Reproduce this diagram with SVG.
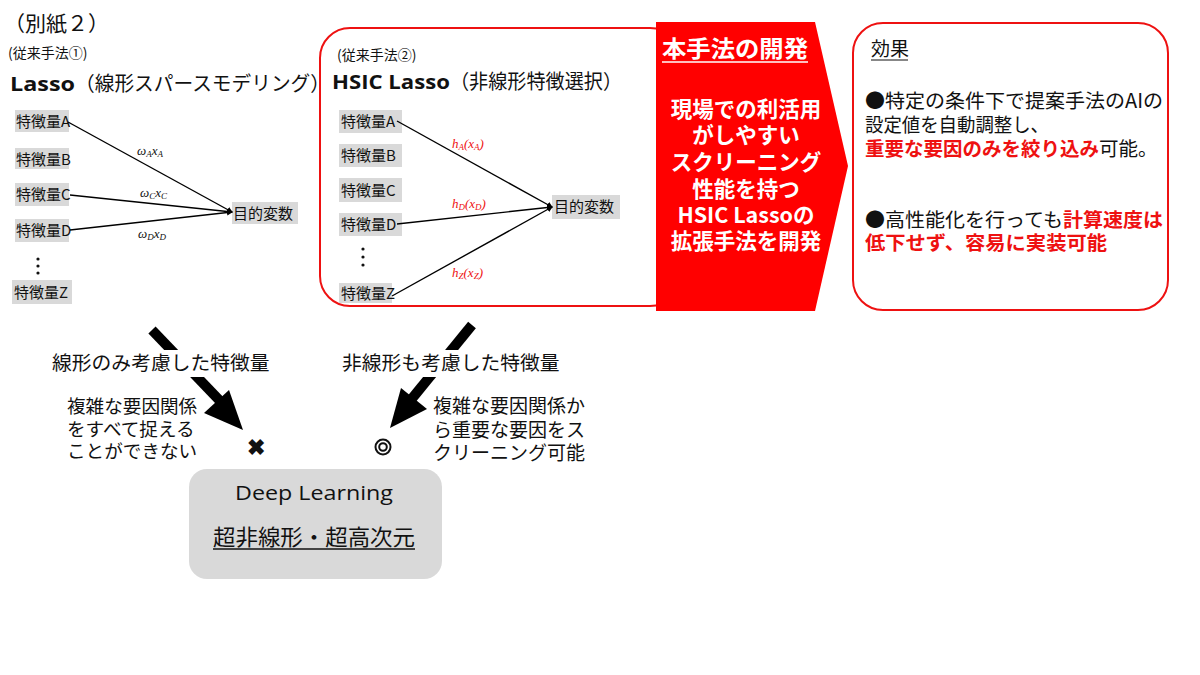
<svg xmlns="http://www.w3.org/2000/svg" width="1200" height="675" viewBox="0 0 1200 675">
<defs>
<style>
text{font-family:"Noto Sans CJK JP","Noto Sans",sans-serif;fill:#111}
.lat{font-family:"Open Sans","Noto Sans","Noto Sans CJK JP",sans-serif}
.feat rect{fill:#d9d9d9}
.feat text{font-size:15px}
.math{font-family:"Liberation Serif",serif;font-style:italic;font-size:13px}
.red{fill:#ee1111}
.edge{stroke:#000;stroke-width:1.4;fill:none;marker-end:url(#ah)}
.big{stroke:#000;stroke-width:10;fill:none}
.wt{fill:#fff;font-weight:bold}
.r{fill:#ee1111;font-weight:bold}
</style>
<marker id="ah" markerWidth="6" markerHeight="6" refX="5" refY="3" orient="auto" markerUnits="userSpaceOnUse">
<path d="M0,0 L6,3 L0,6 z" fill="#000"/>
</marker>
</defs>
<rect width="1200" height="675" fill="#fff"/>

<text x="4" y="31" font-size="21">（別紙２）</text>

<g id="lasso-panel">
<text x="8" y="58" font-size="14">(従来手法①)</text>
<text x="10" y="91" font-size="20" font-weight="bold" class="lat" textLength="65" lengthAdjust="spacingAndGlyphs">Lasso</text>
<text x="75" y="91" font-size="20" textLength="255" lengthAdjust="spacingAndGlyphs">（線形スパースモデリング）</text>
</g>
<g id="lA" class="feat"><rect x="15" y="110" width="54" height="22"/><text x="16" y="127">特徴量A</text></g>
<g id="lB" class="feat"><rect x="15" y="148" width="54" height="21"/><text x="16" y="165">特徴量B</text></g>
<g id="lC" class="feat"><rect x="15" y="183" width="54" height="23"/><text x="16" y="200">特徴量C</text></g>
<g id="lD" class="feat"><rect x="15" y="219" width="54" height="23"/><text x="16" y="236">特徴量D</text></g>
<g id="lDots"><circle cx="38" cy="259" r="1.6" fill="#111"/><circle cx="38" cy="266" r="1.6" fill="#111"/><circle cx="38" cy="273" r="1.6" fill="#111"/></g>
<g id="lZ" class="feat"><rect x="12" y="280" width="60" height="24"/><text x="14" y="298">特徴量Z</text></g>
<g id="lT" class="feat"><rect x="232" y="202" width="66" height="22"/><text x="233" y="219">目的変数</text></g>

<g id="hsic-panel">
<rect x="320" y="28" width="360" height="278" rx="30" ry="30" fill="#fff" stroke="#ee1111" stroke-width="2"/>
<text x="337" y="60" font-size="14">(従来手法②)</text>
<text x="332" y="89" font-size="20" font-weight="bold" class="lat" textLength="118" lengthAdjust="spacingAndGlyphs">HSIC Lasso</text>
<text x="450" y="89" font-size="20" textLength="172" lengthAdjust="spacingAndGlyphs">（非線形特徴選択）</text>
</g>
<g id="hA" class="feat"><rect x="339" y="110" width="63" height="23"/><text x="341" y="127">特徴量A</text></g>
<g id="hB" class="feat"><rect x="339" y="144" width="63" height="23"/><text x="341" y="161">特徴量B</text></g>
<g id="hC" class="feat"><rect x="339" y="178" width="63" height="24"/><text x="341" y="196">特徴量C</text></g>
<g id="hD" class="feat"><rect x="339" y="213" width="63" height="23"/><text x="341" y="230">特徴量D</text></g>
<g id="hDots"><circle cx="363" cy="249" r="1.6" fill="#111"/><circle cx="363" cy="257" r="1.6" fill="#111"/><circle cx="363" cy="265" r="1.6" fill="#111"/></g>
<g id="hZ" class="feat"><rect x="339" y="283" width="53" height="20"/><text x="341" y="299">特徴量Z</text></g>
<g id="hT" class="feat"><rect x="552" y="195" width="68" height="24"/><text x="554" y="212">目的変数</text></g>

<g id="connectors">
<path class="edge" d="M68,122 L232,212"/>
<path class="edge" d="M70,195 L232,212"/>
<path class="edge" d="M70,230 L232,212"/>
<path class="edge" d="M397,121 L552,207"/>
<path class="edge" d="M397,224 L552,207"/>
<path class="edge" d="M392,296 L552,207"/>
<path class="big" d="M152,330 L222,403"/>
<polygon points="243,430 204,413 229,390" fill="#000"/>
<path class="big" d="M472,325 L410,401"/>
<polygon points="390,428 401,388 427,409" fill="#000"/>
</g>

<g id="edge-labels">
<text class="math" x="137" y="155">ω<tspan font-size="9" dy="2">A</tspan><tspan dy="-2">x</tspan><tspan font-size="9" dy="2">A</tspan></text>
<text class="math" x="140" y="197">ω<tspan font-size="9" dy="2">C</tspan><tspan dy="-2">x</tspan><tspan font-size="9" dy="2">C</tspan></text>
<text class="math" x="138" y="238">ω<tspan font-size="9" dy="2">D</tspan><tspan dy="-2">x</tspan><tspan font-size="9" dy="2">D</tspan></text>
<text class="math red" x="452" y="148">h<tspan font-size="9" dy="2">A</tspan><tspan dy="-2">(x</tspan><tspan font-size="9" dy="2">A</tspan><tspan dy="-2">)</tspan></text>
<text class="math red" x="452" y="208">h<tspan font-size="9" dy="2">D</tspan><tspan dy="-2">(x</tspan><tspan font-size="9" dy="2">D</tspan><tspan dy="-2">)</tspan></text>
<text class="math red" x="452" y="277">h<tspan font-size="9" dy="2">Z</tspan><tspan dy="-2">(x</tspan><tspan font-size="9" dy="2">Z</tspan><tspan dy="-2">)</tspan></text>
</g>

<g id="method">
<polygon points="656,22 815,22 848,166 815,311 656,311" fill="#ff0000"/>
<text class="wt" x="662" y="57" font-size="22.5" textLength="146" lengthAdjust="spacingAndGlyphs">本手法の開発</text>
<line x1="662" y1="62" x2="808" y2="62" stroke="#fff" stroke-width="1.5"/>
<g text-anchor="middle" font-size="21.5">
<text class="wt" x="746" y="117">現場での利活用</text>
<text class="wt" x="746" y="143">がしやすい</text>
<text class="wt" x="746" y="170">スクリーニング</text>
<text class="wt" x="746" y="197">性能を持つ</text>
<text class="wt" x="746" y="223">HSIC Lassoの</text>
<text class="wt" x="746" y="249">拡張手法を開発</text>
</g>
</g>

<g id="effect">
<rect x="853" y="23" width="315" height="287" rx="30" ry="30" fill="#fff" stroke="#ee1111" stroke-width="2"/>
<text x="871" y="56" font-size="19">効果</text>
<line x1="871" y1="60" x2="908" y2="60" stroke="#111" stroke-width="1.2"/>
<text x="865" y="108" font-size="19.5" textLength="298" lengthAdjust="spacingAndGlyphs">●特定の条件下で提案手法のAIの</text>
<text x="865" y="132" font-size="19.5" textLength="184" lengthAdjust="spacingAndGlyphs">設定値を自動調整し、</text>
<text x="865" y="156" font-size="19.5"><tspan class="r">重要な要因のみを絞り込み</tspan>可能。</text>
<text x="865" y="227" font-size="19.5" textLength="298" lengthAdjust="spacingAndGlyphs">●高性能化を行っても<tspan class="r">計算速度は</tspan></text>
<text x="865" y="250" font-size="19.5" class="r" textLength="242" lengthAdjust="spacingAndGlyphs">低下せず、容易に実装可能</text>
</g>

<g id="lin-label">
<rect x="50" y="350" width="226" height="27" fill="#fff"/>
<text x="52" y="370" font-size="19.8">線形のみ考慮した特徴量</text>
</g>
<g id="nonlin-label">
<rect x="340" y="350" width="224" height="27" fill="#fff"/>
<text x="342" y="370" font-size="19.8">非線形も考慮した特徴量</text>
</g>
<g id="lin-note" font-size="18.6">
<text x="67" y="413">複雑な要因関係</text>
<text x="67" y="436">をすべて捉える</text>
<text x="67" y="458">ことができない</text>
</g>
<g id="cross"><text x="256" y="455" font-size="22" font-weight="bold" text-anchor="middle">✖</text></g>
<g id="circle2"><circle cx="383" cy="447" r="7.5" fill="none" stroke="#111" stroke-width="2"/><circle cx="383" cy="447" r="3.8" fill="none" stroke="#111" stroke-width="2"/></g>
<g id="nonlin-note" font-size="19">
<text x="433" y="413">複雑な要因関係か</text>
<text x="433" y="437">ら重要な要因をス</text>
<text x="433" y="460">クリーニング可能</text>
</g>

<g id="deep">
<rect x="189" y="469" width="253" height="110" rx="18" ry="18" fill="#d9d9d9"/>
<text x="235" y="500" font-size="20.5" class="lat" textLength="158" lengthAdjust="spacingAndGlyphs">Deep Learning</text>
<text x="213" y="545" font-size="22" textLength="202" lengthAdjust="spacingAndGlyphs">超非線形・超高次元</text>
<line x1="213" y1="549" x2="415" y2="549" stroke="#111" stroke-width="1.3"/>
</g>
</svg>
